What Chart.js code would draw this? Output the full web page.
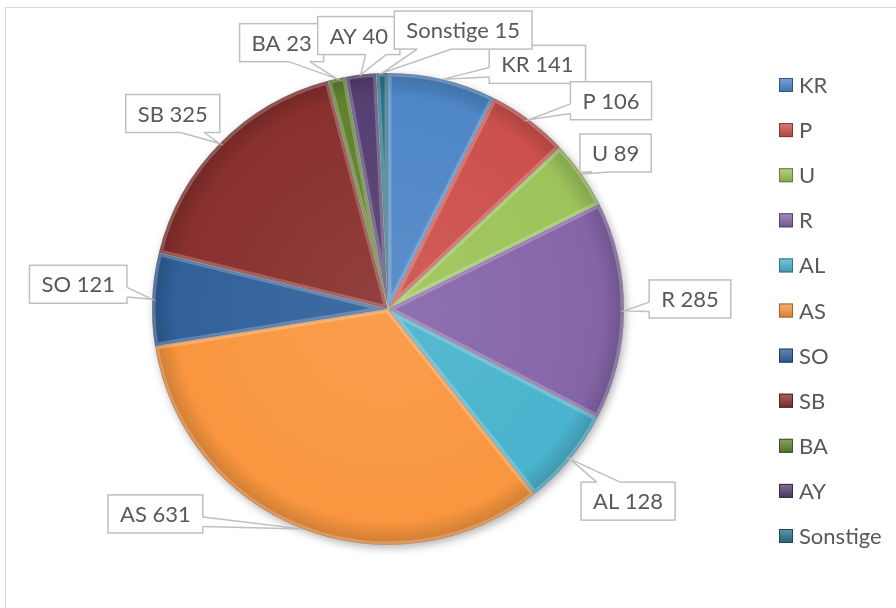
<!DOCTYPE html>
<html>
<head>
<meta charset="utf-8">
<script src="https://cdn.jsdelivr.net/npm/chart.js@4/dist/chart.umd.min.js"></script>
<style>
  html, body { margin: 0; padding: 0; background: #fff; }
  #wrap { position: relative; width: 896px; height: 608px; overflow: hidden; }
  #frame { position: absolute; left: 5px; top: 7px; width: 1000px; height: 700px;
           border-left: 1px solid #d9d9d9; border-top: 1px solid #d9d9d9; }
  canvas { position: absolute; left: 0; top: 0; }
</style>
</head>
<body>
<div id="wrap">
  <div id="frame"></div>
  <canvas id="pieChart" width="896" height="608"></canvas>
</div>
<script>
// values
const categories = ['KR', 'P', 'U', 'R', 'AL', 'AS', 'SO', 'SB', 'BA', 'AY', 'Sonstige'];
const counts = [141, 106, 89, 285, 128, 631, 121, 325, 23, 40, 15];

const sliceColors = ['#4e86c6', '#cc504c', '#9cc35a', '#8565a8', '#4ab3cd', '#f9963f',
                     '#31609a', '#88302d', '#61812f', '#553f72', '#2b7387'];

// where each callout box sits, relative to the point on the rim it points at
const calloutOffsets = [[95, -15], [82, -19], [34, -21], [66, -12], [58, 42], [-147, -15],
                        [-74, -15], [-47, -30], [-55, -36], [-2, -39], [81, -43]];

const FONT = '22px Lato, "Open Sans", sans-serif';
const TEXT = '#595959';

function shade(hex, amt) {
  const n = parseInt(hex.slice(1), 16);
  let r = (n >> 16) & 255, g = (n >> 8) & 255, b = n & 255;
  const f = c => Math.max(0, Math.min(255, Math.round(amt >= 0 ? c + (255 - c) * amt : c * (1 + amt))));
  return 'rgb(' + f(r) + ',' + f(g) + ',' + f(b) + ')';
}

function sliceFill(ctx) {
  const base = sliceColors[ctx.dataIndex];
  const area = ctx.chart.chartArea;
  if (!area) return base;
  const cx = (area.left + area.right) / 2, cy = (area.top + area.bottom) / 2;
  const r = Math.min(area.width, area.height) / 2;
  const g = ctx.chart.ctx.createRadialGradient(cx, cy, 0, cx, cy, r);
  g.addColorStop(0, shade(base, 0.08));
  g.addColorStop(0.9, base);
  g.addColorStop(1, shade(base, -0.18));
  return g;
}

// soft shadow under the pie
const shadowPlugin = {
  id: 'pieShadow',
  beforeDatasetsDraw(chart) {
    const arc = chart.getDatasetMeta(0).data[0];
    if (!arc) return;
    const c = chart.ctx;
    c.save();
    c.shadowColor = 'rgba(0,0,0,0.35)';
    c.shadowBlur = 10;
    c.shadowOffsetX = 2;
    c.shadowOffsetY = 3;
    c.fillStyle = '#fff';
    c.beginPath();
    c.arc(arc.x, arc.y, arc.outerRadius - 1, 0, Math.PI * 2);
    c.fill();
    c.restore();
  }
};

// light inner edge on every slice, a bit like the bevel
const bevelPlugin = {
  id: 'bevel',
  afterDatasetsDraw(chart) {
    const c = chart.ctx;
    chart.getDatasetMeta(0).data.forEach(arc => {
      c.save();
      c.beginPath();
      c.moveTo(arc.x, arc.y);
      c.arc(arc.x, arc.y, arc.outerRadius, arc.startAngle, arc.endAngle);
      c.closePath();
      c.clip();
      c.lineJoin = 'round';
      c.strokeStyle = 'rgba(255,255,255,0.22)';
      c.lineWidth = 7;
      c.stroke();
      c.strokeStyle = 'rgba(0,0,0,0.18)';
      c.lineWidth = 1.5;
      c.stroke();
      c.restore();
    });
  }
};

// callout boxes with a wedge pointing at the slice
const calloutPlugin = {
  id: 'callouts',
  afterDraw(chart) {
    const c = chart.ctx;
    const arcs = chart.getDatasetMeta(0).data;
    c.save();
    c.font = FONT;
    arcs.forEach((arc, i) => {
      const mid = (arc.startAngle + arc.endAngle) / 2;
      const ax = arc.x + Math.cos(mid) * arc.outerRadius;
      const ay = arc.y + Math.sin(mid) * arc.outerRadius;
      const text = categories[i] + ' ' + counts[i];
      const w = c.measureText(text).width + 24;
      const h = 38;
      const bx = ax + calloutOffsets[i][0] - w / 2;
      const by = ay + calloutOffsets[i][1] - h / 2;
      const dx = (ax - (bx + w / 2)) / w, dy = (ay - (by + h / 2)) / h;
      let p1, p2, inward;
      if (Math.abs(dx) > Math.abs(dy)) {
        const ex = dx < 0 ? bx : bx + w;
        const t = dy < 0 ? [1 / 6, 5 / 12] : [7 / 12, 5 / 6];
        p1 = [ex, by + h * t[0]]; p2 = [ex, by + h * t[1]];
        inward = [dx < 0 ? 2 : -2, 0];
      } else {
        const ey = dy < 0 ? by : by + h;
        const t = dx < 0 ? [1 / 6, 5 / 12] : [7 / 12, 5 / 6];
        p1 = [bx + w * t[0], ey]; p2 = [bx + w * t[1], ey];
        inward = [0, dy < 0 ? 2 : -2];
      }
      c.fillStyle = '#fff';
      c.strokeStyle = '#bfbfbf';
      c.lineWidth = 1.5;
      c.fillRect(bx, by, w, h);
      c.strokeRect(bx, by, w, h);
      c.beginPath();
      c.moveTo(p1[0] + inward[0], p1[1] + inward[1]);
      c.lineTo(p1[0], p1[1]);
      c.lineTo(ax, ay);
      c.lineTo(p2[0], p2[1]);
      c.lineTo(p2[0] + inward[0], p2[1] + inward[1]);
      c.closePath();
      c.fill();
      c.beginPath();
      c.moveTo(p1[0], p1[1]);
      c.lineTo(ax, ay);
      c.lineTo(p2[0], p2[1]);
      c.stroke();
      c.fillStyle = TEXT;
      c.textAlign = 'center';
      c.textBaseline = 'middle';
      c.fillText(text, bx + w / 2, by + h / 2 + 1);
    });
    c.restore();
  }
};

// legend down the right side
const legendPlugin = {
  id: 'sideLegend',
  afterDraw(chart) {
    const c = chart.ctx;
    c.save();
    c.font = FONT;
    c.textBaseline = 'middle';
    c.textAlign = 'left';
    categories.forEach((name, i) => {
      const y = 85 + i * 45.1;
      const col = sliceColors[i];
      const g = c.createLinearGradient(0, y - 7, 0, y + 7);
      g.addColorStop(0, shade(col, 0.25));
      g.addColorStop(1, shade(col, -0.15));
      c.fillStyle = g;
      c.fillRect(779, y - 7, 14, 14);
      c.strokeStyle = shade(col, -0.35);
      c.lineWidth = 1;
      c.strokeRect(779.5, y - 6.5, 13, 13);
      c.fillStyle = TEXT;
      c.fillText(name, 799, y + 1);
    });
    c.restore();
  }
};

const data = {
  labels: categories,
  datasets: [{
    data: counts,
    backgroundColor: sliceFill,
    borderColor: 'rgba(255,255,255,0.25)',
    borderWidth: 1,
    hoverOffset: 0
  }]
};

const config = {
  type: 'pie',
  data: data,
  options: {
    responsive: false,
    animation: false,
    events: [],
    layout: { padding: { left: 151.5, top: 72.5, right: 271.5, bottom: 62.5 } },
    plugins: { legend: { display: false }, tooltip: { enabled: false } }
  },
  plugins: [shadowPlugin, bevelPlugin, calloutPlugin, legendPlugin]
};

//eslint-disable-next-line
const pieChart = new Chart(document.getElementById('pieChart'), config);
</script>
</body>
</html>
